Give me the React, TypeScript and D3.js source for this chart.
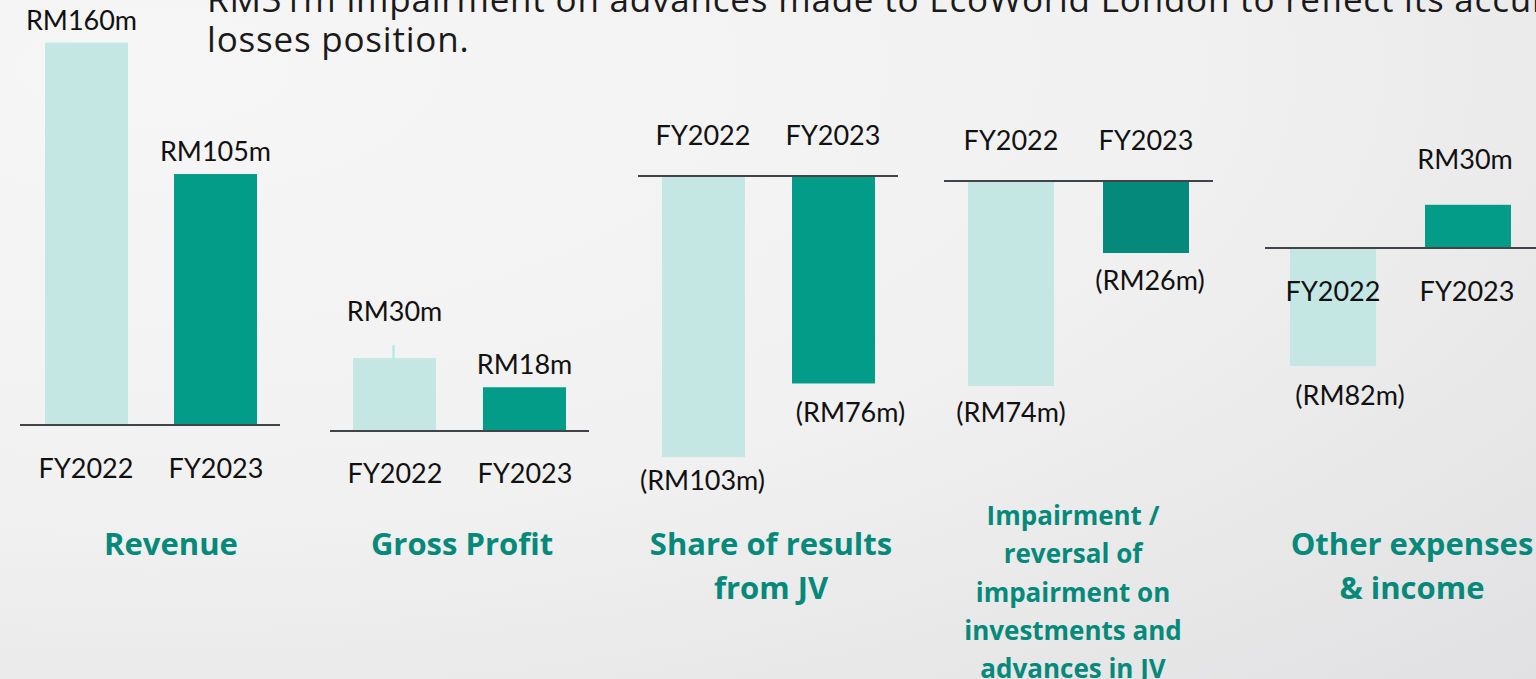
import React from 'react';
import * as d3 from 'd3';

// values in RM million, per panel
const years = ['FY2022', 'FY2023'];
const revenue = [160, 105];
const grossProfit = [30, 18];
const shareJV = [-103, -76];
const impairment = [-74, -26];
const otherExp = [-82, 30];

const revenueLabels = ['RM160m', 'RM105m'];
const grossProfitLabels = ['RM30m', 'RM18m'];
const shareJVLabels = ['(RM103m)', '(RM76m)'];
const impairmentLabels = ['(RM74m)', '(RM26m)'];
const otherExpLabels = ['(RM82m)', 'RM30m'];

const titles = [
  ['Revenue'],
  ['Gross Profit'],
  ['Share of results', 'from JV'],
  ['Impairment /', 'reversal of', 'impairment on', 'investments and', 'advances in JV'],
  ['Other expenses', '& income'],
];

const noteLines = [
  'RM31m impairment on advances made to EcoWorld London to reflect its accumulated',
  'losses position.',
];

const LIGHT = '#c4e7e4';
const DARK = '#029c89';
const DARK2 = '#04897a';
const TEAL = '#05897a';
const FONT = 'Lato, "Open Sans", sans-serif';
const TITLE_FONT = '"Open Sans", Lato, sans-serif';

// layout of each little panel (pixels, not data)
const panels = [
  { values: revenue, labels: revenueLabels, axis: [20, 280], base: 425, k: 2.39, barX: 45, step: 129, bw: 83, catDy: 42, catX: [86, 216], valOff: [[-5, 1], [0, 0]], dark: DARK, titleX: 171, titleY: 543 },
  { values: grossProfit, labels: grossProfitLabels, axis: [330, 589], base: 431, k: 2.43, barX: 353, step: 130, bw: 83, catDy: 41, catX: [395, 525], valOff: [[0, -24], [0, 0]], dark: DARK, titleX: 462, titleY: 543, tick: true },
  { values: shareJV, labels: shareJVLabels, axis: [638, 898], base: 176, k: 2.73, barX: 662, step: 130, bw: 83, catDy: -42, catX: [703, 833], valOff: [[-1, -2], [17, 4]], dark: DARK, titleX: 771, titleY: 543 },
  { values: impairment, labels: impairmentLabels, axis: [944, 1213], base: 181, k: 2.77, barX: 968, step: 135, bw: 86, catDy: -42, catX: [1011, 1146], valOff: [[0, 2], [4, 2]], dark: DARK2, titleX: 1073, titleY: 515, small: true },
  { values: otherExp, labels: otherExpLabels, axis: [1265, 1540], base: 248, k: 1.44, barX: 1290, step: 135, bw: 86, catDy: 42, catX: [1333, 1467], valOff: [[17, 4], [-3, -22]], dark: DARK, titleX: 1412, titleY: 543 },
];

const W = 1536;
const H = 679;

function Panel({ p }: { p: any }) {
  const x = d3.scaleBand<string>()
    .domain(years)
    .range([p.barX, p.barX + p.step + p.bw])
    .paddingInner(1 - p.bw / p.step)
    .paddingOuter(0);
  const y = d3.scaleLinear().domain([0, 100]).range([p.base, p.base - 100 * p.k]);

  return (
    <g>
      {years.map((yr, i) => {
        const v = p.values[i];
        const top = Math.min(y(v), y(0));
        const h = Math.abs(y(v) - y(0));
        return (
          <rect key={yr} x={x(yr)} y={top} width={x.bandwidth()} height={h}
            fill={i === 0 ? LIGHT : p.dark} />
        );
      })}
      {p.tick && (
        <line x1={x(years[0])! + x.bandwidth() / 2 - 1} x2={x(years[0])! + x.bandwidth() / 2 - 1}
          y1={y(p.values[0]) - 13} y2={y(p.values[0])} stroke="#9feee4" strokeWidth={2} />
      )}
      <line x1={p.axis[0]} x2={p.axis[1]} y1={y(0)} y2={y(0)} stroke="#404448" strokeWidth={2} />
      {years.map((yr, i) => (
        <text key={'c' + yr} x={p.catX[i]} y={y(0) + p.catDy} textAnchor="middle"
          dominantBaseline="central" fontSize={27} fill="#111">{yr}</text>
      ))}
      {years.map((yr, i) => {
        const v = p.values[i];
        const cx = x(yr)! + x.bandwidth() / 2 + p.valOff[i][0];
        const cy = (v >= 0 ? y(v) - 24 : y(v) + 24) + p.valOff[i][1];
        return (
          <text key={'v' + yr} x={cx} y={cy} textAnchor="middle" dominantBaseline="central"
            fontSize={27} fill="#111">{p.labels[i]}</text>
        );
      })}
    </g>
  );
}

export default function App() {
  return (
    <svg width={W} height={H} style={{ position: 'absolute', left: 0, top: 0 }} fontFamily={FONT}>
      <defs>
        <radialGradient id="bg" cx="0.1" cy="0.1" r="1.3">
          <stop offset="0" stopColor="#f6f6f6" />
          <stop offset="0.5" stopColor="#f1f1f1" />
          <stop offset="1" stopColor="#e0e0e2" />
        </radialGradient>
      </defs>
      <rect width={W} height={H} fill="url(#bg)" />
      {noteLines.map((t, i) => (
        <text key={i} x={207} y={12 + i * 40} fontSize={35} letterSpacing={0.8}
          fill="#1a1a1a" fontFamily={TITLE_FONT}>{t}</text>
      ))}
      {panels.map((p, i) => <Panel key={i} p={p} />)}
      {panels.map((p, i) => (
        <text key={'t' + i} textAnchor="middle" fill={TEAL} fontWeight={700} fontFamily={TITLE_FONT}
          fontSize={p.small ? 26 : 31}>
          {titles[i].map((line, j) => (
            <tspan key={j} x={p.titleX} y={p.titleY + j * (p.small ? 38.3 : 44)} dominantBaseline="central">{line}</tspan>
          ))}
        </text>
      ))}
    </svg>
  );
}
